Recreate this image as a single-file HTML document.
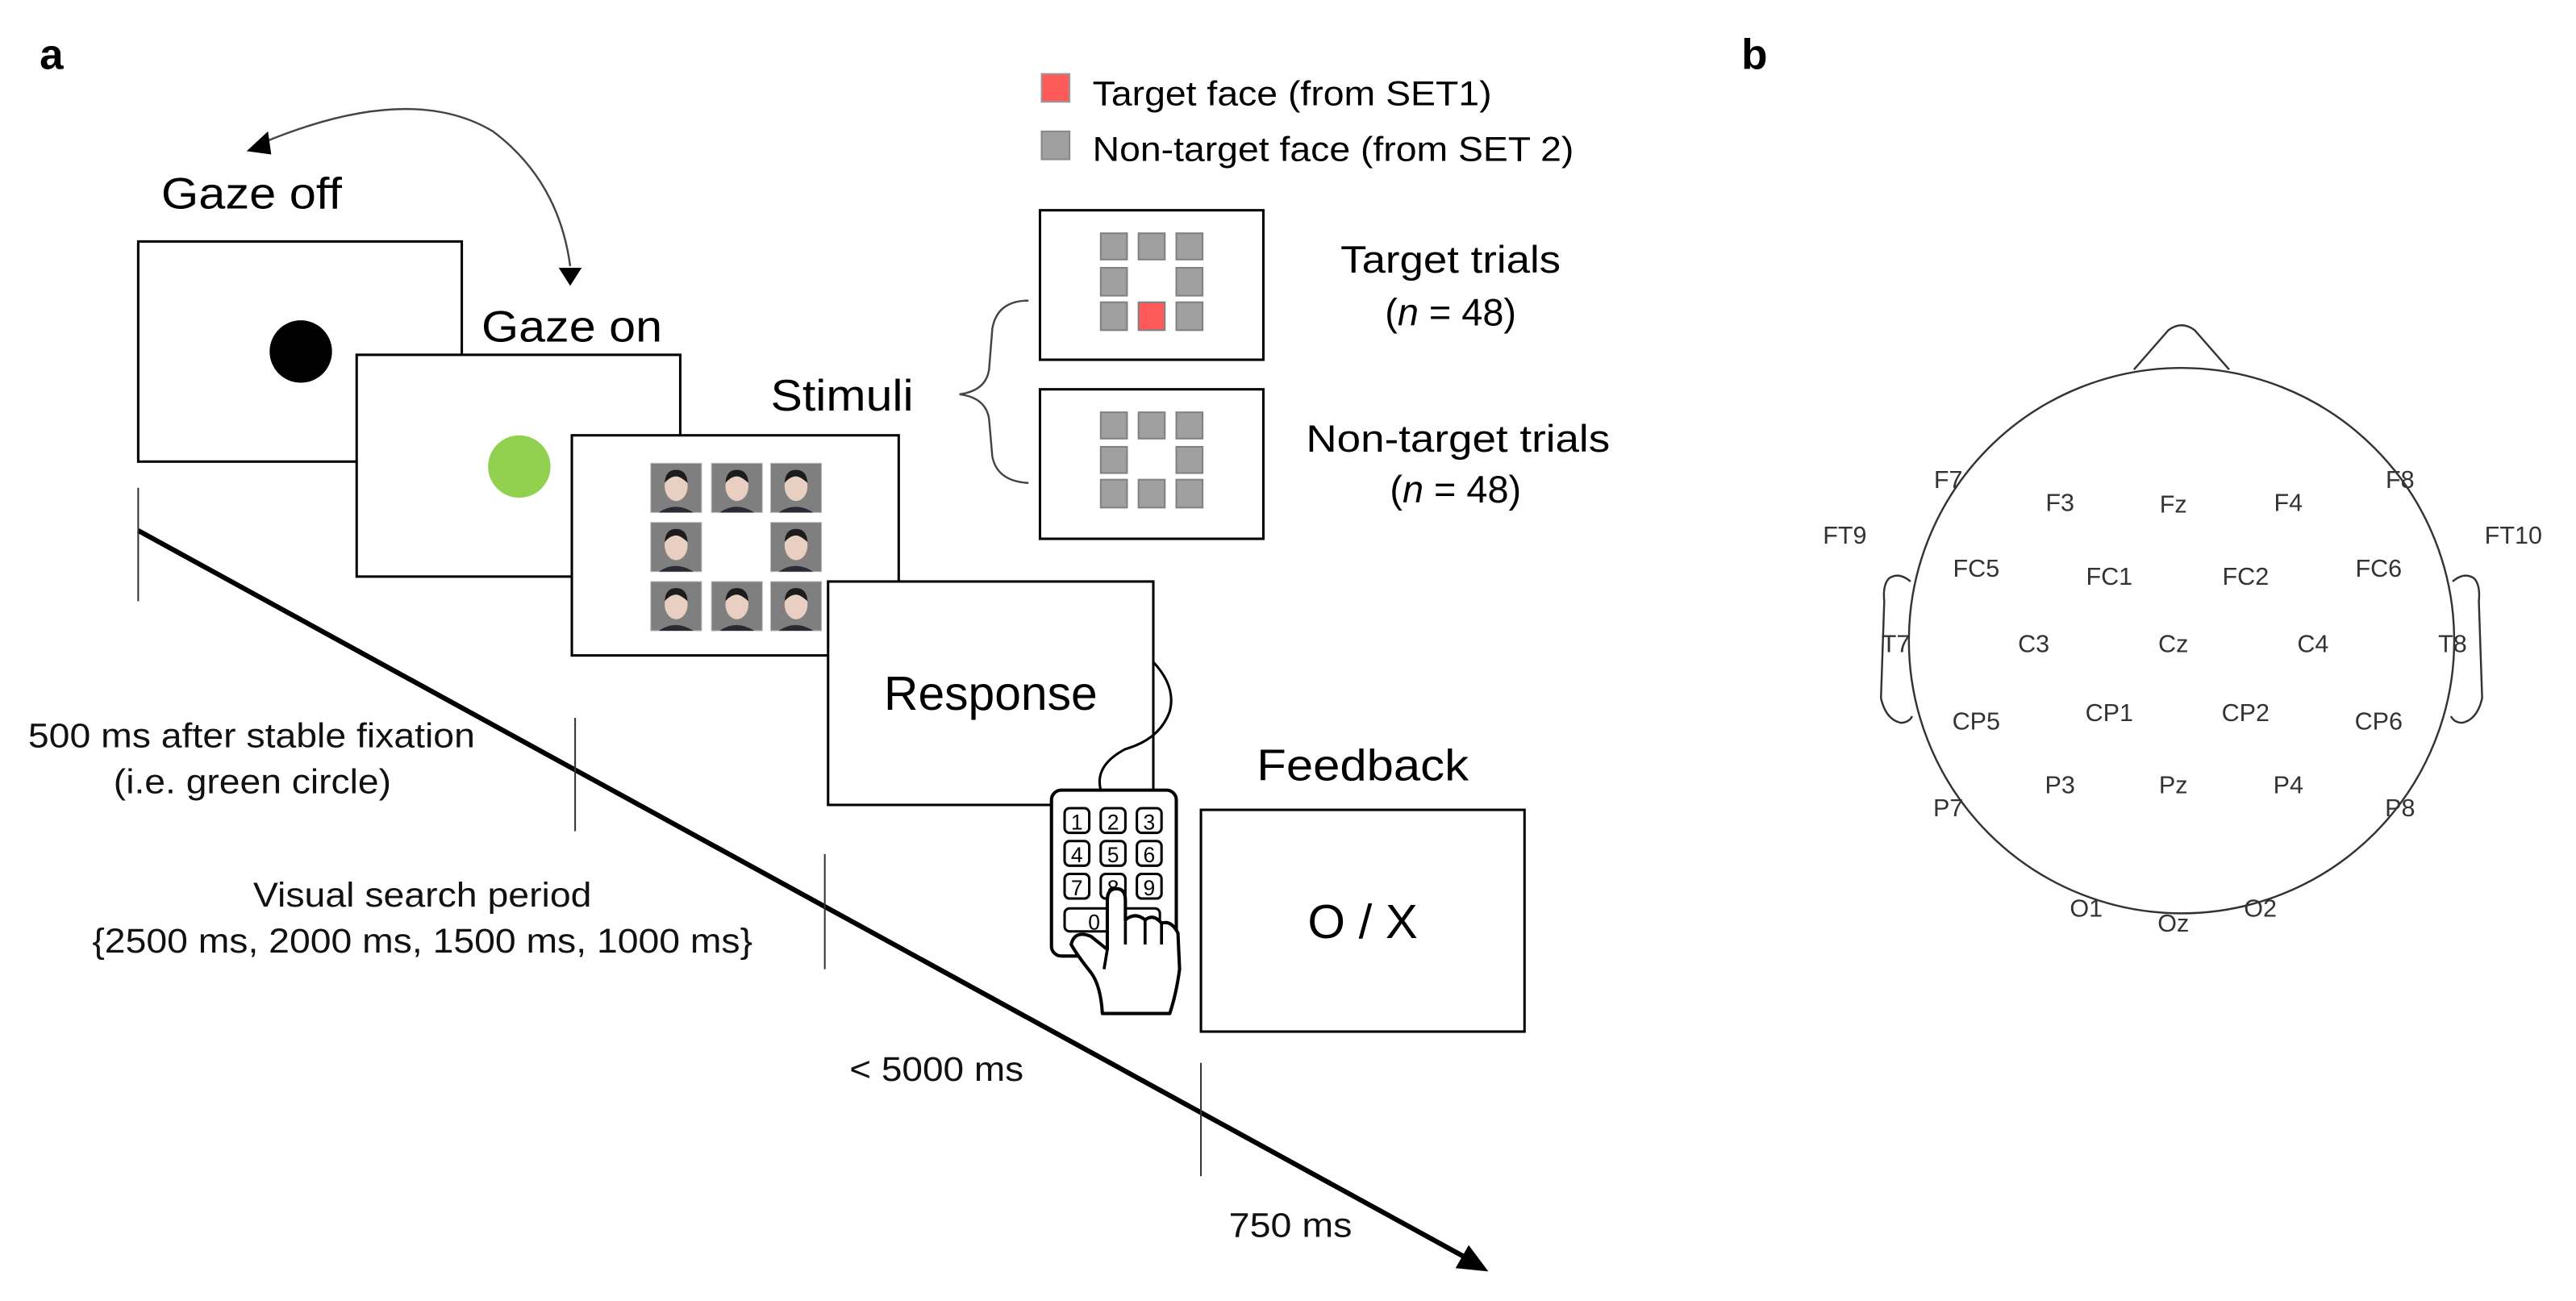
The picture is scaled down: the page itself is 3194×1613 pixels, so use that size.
<!DOCTYPE html>
<html><head><meta charset="utf-8"><style>html,body{margin:0;padding:0;background:#fff}svg{display:block}</style></head>
<body>
<svg xmlns="http://www.w3.org/2000/svg" width="3194" height="1613" viewBox="0 0 1568 792" font-family="Liberation Sans, Arial, sans-serif">
<defs>
<g id="face">
<rect x="0" y="0" width="31" height="30" fill="#7f7f7f" stroke="#bbb" stroke-width="0.5"/>
<path d="M5 30 Q15 23 26 30 Z" fill="#2a2a35"/>
<ellipse cx="15.5" cy="14" rx="7" ry="9" fill="#e9cfc2"/>
<path d="M8.5 12 Q9 4 15.5 4 Q22 4 22.5 12 Q18 8 15.5 8 Q12 8 8.5 12Z" fill="#1c1c1c"/>
</g>
</defs>
<rect width="1568" height="792" fill="#fff"/>
<text x="24" y="42" font-size="26" font-weight="bold">a</text>
<text x="1060" y="42" font-size="26" font-weight="bold">b</text>

<!-- legend -->
<rect x="634" y="45" width="17" height="17" fill="#ff5a5a" stroke="#999" stroke-width="1"/>
<text x="665" y="64" font-size="21" textLength="243" lengthAdjust="spacingAndGlyphs">Target face (from SET1)</text>
<rect x="634" y="80" width="17" height="17" fill="#a0a0a0" stroke="#888" stroke-width="1"/>
<text x="665" y="98" font-size="21" textLength="293" lengthAdjust="spacingAndGlyphs">Non-target face (from SET 2)</text>

<!-- curved arrow -->
<path d="M162 86 Q250 50 300 80 Q340 110 347 162" fill="none" stroke="#444" stroke-width="1.2"/>
<path d="M150 92 L163 80 L165 94Z" fill="#000"/>
<path d="M340 163 L354 163 L347 174Z" fill="#000"/>

<text x="98" y="127" font-size="27" textLength="110" lengthAdjust="spacingAndGlyphs">Gaze off</text>
<rect x="84" y="147" width="197" height="134" fill="#fff" stroke="#000" stroke-width="1.5"/>
<circle cx="183" cy="214" r="19" fill="#000"/>

<text x="293" y="208" font-size="27" textLength="110" lengthAdjust="spacingAndGlyphs">Gaze on</text>
<rect x="217" y="216" width="197" height="135" fill="#fff" stroke="#000" stroke-width="1.5"/>
<circle cx="316" cy="284" r="19" fill="#92d050"/>

<text x="469" y="250" font-size="27" textLength="87" lengthAdjust="spacingAndGlyphs">Stimuli</text>
<rect x="348" y="265" width="199" height="134" fill="#fff" stroke="#000" stroke-width="1.5"/>
<use href="#face" x="396" y="282"/><use href="#face" x="433" y="282"/><use href="#face" x="469" y="282"/>
<use href="#face" x="396" y="318"/><use href="#face" x="469" y="318"/>
<use href="#face" x="396" y="354"/><use href="#face" x="433" y="354"/><use href="#face" x="469" y="354"/>

<!-- brace -->
<path d="M626 183 Q607 183 604 200 L602 225 Q600 238 584 240 Q600 242 602 255 L604 278 Q607 293 626 294" fill="none" stroke="#444" stroke-width="1.2"/>

<!-- target boxes -->
<rect x="633" y="128" width="136" height="91" fill="#fff" stroke="#000" stroke-width="1.5"/>
<g fill="#a0a0a0" stroke="#808080" stroke-width="1">
<rect x="670" y="142" width="16" height="16"/><rect x="693" y="142" width="16" height="16"/><rect x="716" y="142" width="16" height="16"/>
<rect x="670" y="163" width="16" height="17"/><rect x="716" y="163" width="16" height="17"/>
<rect x="670" y="184" width="16" height="17"/><rect x="693" y="184" width="16" height="17" fill="#ff5a5a"/><rect x="716" y="184" width="16" height="17"/>
</g>
<rect x="633" y="237" width="136" height="91" fill="#fff" stroke="#000" stroke-width="1.5"/>
<g fill="#a0a0a0" stroke="#808080" stroke-width="1">
<rect x="670" y="251" width="16" height="16"/><rect x="693" y="251" width="16" height="16"/><rect x="716" y="251" width="16" height="16"/>
<rect x="670" y="272" width="16" height="16"/><rect x="716" y="272" width="16" height="16"/>
<rect x="670" y="292" width="16" height="17"/><rect x="693" y="292" width="16" height="17"/><rect x="716" y="292" width="16" height="17"/>
</g>
<text x="816" y="166" font-size="23" textLength="134" lengthAdjust="spacingAndGlyphs">Target trials</text>
<text x="883" y="198" font-size="23" text-anchor="middle">(<tspan font-style="italic">n</tspan> = 48)</text>
<text x="795" y="275" font-size="23" textLength="185" lengthAdjust="spacingAndGlyphs">Non-target trials</text>
<text x="886" y="306" font-size="23" text-anchor="middle">(<tspan font-style="italic">n</tspan> = 48)</text>

<!-- response -->
<rect x="504" y="354" width="198" height="136" fill="#fff" stroke="#000" stroke-width="1.5"/>
<text x="538" y="432" font-size="29" textLength="130" lengthAdjust="spacingAndGlyphs">Response</text>
<path d="M702 403 Q716 418 712 433 Q706 450 685 456 Q666 466 670 481" fill="none" stroke="#000" stroke-width="1.5"/>

<!-- feedback -->
<text x="765" y="475" font-size="27" textLength="129" lengthAdjust="spacingAndGlyphs">Feedback</text>
<rect x="731" y="493" width="197" height="135" fill="#fff" stroke="#000" stroke-width="1.5"/>
<text x="796" y="571" font-size="29" textLength="67" lengthAdjust="spacingAndGlyphs">O / X</text>

<!-- keypad -->
<rect x="640" y="481" width="76" height="101" rx="6" fill="#fff" stroke="#000" stroke-width="2"/>
<g fill="#fff" stroke="#000" stroke-width="1.5">
<rect x="648" y="492" width="15" height="15" rx="3"/><rect x="670" y="492" width="15" height="15" rx="3"/><rect x="692" y="492" width="15" height="15" rx="3"/>
<rect x="648" y="512" width="15" height="15" rx="3"/><rect x="670" y="512" width="15" height="15" rx="3"/><rect x="692" y="512" width="15" height="15" rx="3"/>
<rect x="648" y="532" width="15" height="15" rx="3"/><rect x="670" y="532" width="15" height="15" rx="3"/><rect x="692" y="532" width="15" height="15" rx="3"/>
<rect x="648" y="553" width="58" height="14" rx="3"/>
</g>
<g font-size="13" text-anchor="middle">
<text x="655.5" y="505">1</text><text x="677.5" y="505">2</text><text x="699.5" y="505">3</text>
<text x="655.5" y="525">4</text><text x="677.5" y="525">5</text><text x="699.5" y="525">6</text>
<text x="655.5" y="545">7</text><text x="677.5" y="545">8</text><text x="699.5" y="545">9</text>
<text x="666" y="566">0</text>
</g>
<!-- hand -->
<path d="M671 617 Q670 600 664 592 Q656 582 652 575 Q654 566 664 570 L674 578 L674 548 Q674 541 679.5 541 Q685 541 685 548 L685 560 Q691 555 697 560 Q702 556 707 562 Q713 560 717 568 L718 590 Q716 605 712 617 Z" fill="#fff" stroke="#000" stroke-width="2" stroke-linejoin="round"/>
<path d="M685 560 L685 575 M697 560 L697 575 M707 562 L707 575 M674 578 L672 590" fill="none" stroke="#000" stroke-width="1.8"/>

<!-- timeline -->
<line x1="84" y1="323" x2="893" y2="766" stroke="#000" stroke-width="3"/>
<path d="M906 774 L886 772 L894 758Z" fill="#000"/>
<g stroke="#333" stroke-width="1">
<line x1="84" y1="297" x2="84" y2="366"/>
<line x1="350" y1="437" x2="350" y2="506"/>
<line x1="502" y1="520" x2="502" y2="590"/>
<line x1="731" y1="647" x2="731" y2="716"/>
</g>
<g font-size="21" fill="#111" lengthAdjust="spacingAndGlyphs">
<text x="17" y="455" textLength="272" lengthAdjust="spacingAndGlyphs">500 ms after stable fixation</text>
<text x="69" y="483" textLength="169" lengthAdjust="spacingAndGlyphs">(i.e. green circle)</text>
<text x="154" y="552" textLength="206" lengthAdjust="spacingAndGlyphs">Visual search period</text>
<text x="56" y="580" textLength="402" lengthAdjust="spacingAndGlyphs">{2500 ms, 2000 ms, 1500 ms, 1000 ms}</text>
<text x="517" y="658" textLength="106" lengthAdjust="spacingAndGlyphs">&lt; 5000 ms</text>
<text x="748" y="753" textLength="75" lengthAdjust="spacingAndGlyphs">750 ms</text>
</g>

<!-- head -->
<g fill="none" stroke="#333" stroke-width="1.2">
<circle cx="1328" cy="390" r="166"/>
<path d="M1299 225 L1320 201 Q1328 195 1336 201 L1357 225"/>
<path d="M1163 354 Q1156 348 1150 352 Q1146 356 1147 366 L1145 425 Q1148 438 1157 440 Q1162 440 1164 436"/>
<path d="M1493 354 Q1500 348 1506 352 Q1510 356 1509 366 L1511 425 Q1508 438 1499 440 Q1494 440 1492 436"/>
</g>
<g font-size="15" fill="#333" text-anchor="middle">
<text x="1186" y="297">F7</text><text x="1254" y="311">F3</text><text x="1323" y="312">Fz</text><text x="1393" y="311">F4</text><text x="1461" y="297">F8</text>
<text x="1123" y="331">FT9</text><text x="1530" y="331">FT10</text>
<text x="1203" y="351">FC5</text><text x="1284" y="356">FC1</text><text x="1367" y="356">FC2</text><text x="1448" y="351">FC6</text>
<text x="1154" y="397">T7</text><text x="1238" y="397">C3</text><text x="1323" y="397">Cz</text><text x="1408" y="397">C4</text><text x="1493" y="397">T8</text>
<text x="1203" y="444">CP5</text><text x="1284" y="439">CP1</text><text x="1367" y="439">CP2</text><text x="1448" y="444">CP6</text>
<text x="1254" y="483">P3</text><text x="1323" y="483">Pz</text><text x="1393" y="483">P4</text>
<text x="1186" y="497">P7</text><text x="1461" y="497">P8</text>
<text x="1270" y="558">O1</text><text x="1323" y="567">Oz</text><text x="1376" y="558">O2</text>
</g>
</svg>
</body></html>
